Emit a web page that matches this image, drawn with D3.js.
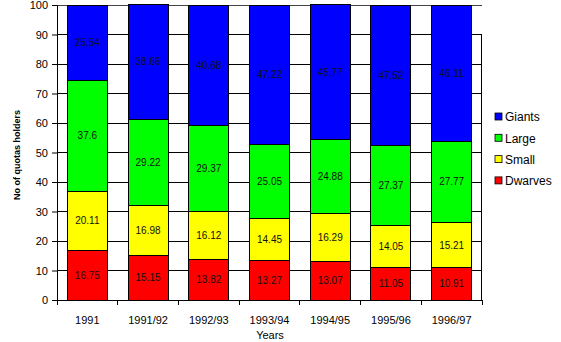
<!DOCTYPE html>
<html>
<head>
<meta charset="utf-8">
<script src="https://cdn.jsdelivr.net/npm/d3@7"></script>
<style>
  html, body { margin: 0; padding: 0; background: #fff; }
  svg { display: block; font-family: "Liberation Sans", Arial, sans-serif; }
</style>
</head>
<body>
<svg id="chart" width="561" height="342"></svg>
<script>
// Share of quota holders per size group, by year
const years = ["1991", "1991/92", "1992/93", "1993/94", "1994/95", "1995/96", "1996/97"];
const dwarves = [16.75, 15.15, 13.82, 13.27, 13.07, 11.05, 10.91];
const small   = [20.11, 16.98, 16.12, 14.45, 16.29, 14.05, 15.21];
const large   = [37.6, 29.22, 29.37, 25.05, 24.88, 27.37, 27.77];
const giants  = [25.54, 38.66, 40.68, 47.22, 45.77, 47.52, 46.11];
const seriesNames = ["Dwarves", "Small", "Large", "Giants"];
const yTicks = [0, 10, 20, 30, 40, 50, 60, 70, 80, 90, 100];

const colors = { Dwarves: "#ff0000", Small: "#ffff00", Large: "#00ff00", Giants: "#0000ff" };
const valuesBySeries = { Dwarves: dwarves, Small: small, Large: large, Giants: giants };

const rows = years.map((yr, i) => {
  const r = { year: yr };
  seriesNames.forEach(s => r[s] = valuesBySeries[s][i]);
  return r;
});

const svg = d3.select("#chart");
const plotLeft = 57, plotRight = 482, plotTop = 5, plotBottom = 300;

const x = d3.scaleBand().domain(years).range([plotLeft, plotRight]).paddingInner(0.34).paddingOuter(0.17);
const y = d3.scaleLinear().domain([0, 100]).range([plotBottom, plotTop]);

// horizontal gridlines
svg.append("g").selectAll("line").data(yTicks.slice(1)).join("line")
  .attr("x1", plotLeft).attr("x2", plotRight)
  .attr("y1", d => y(d)).attr("y2", d => y(d))
  .attr("stroke", d => d === 100 ? "#444" : "#000").attr("stroke-width", 1).attr("shape-rendering", "crispEdges");

// right border of plot area (starts at the 90 gridline)
svg.append("line").attr("x1", plotRight - 1).attr("x2", plotRight - 1).attr("y1", y(90)).attr("y2", plotBottom)
  .attr("stroke", "#000").attr("shape-rendering", "crispEdges");

const stack = d3.stack().keys(seriesNames)(rows);

const layers = svg.append("g").selectAll("g").data(stack).join("g")
  .attr("fill", d => colors[d.key]);

layers.selectAll("rect").data(d => d).join("rect")
  .attr("x", d => x(d.data.year))
  .attr("width", x.bandwidth())
  .attr("y", d => y(d[1]))
  .attr("height", d => y(d[0]) - y(d[1]))
  .attr("stroke", "#000").attr("stroke-width", 1).attr("shape-rendering", "crispEdges");

// value labels centred in each segment
svg.append("g").selectAll("g").data(stack).join("g")
  .each(function(layer) {
    d3.select(this).selectAll("text").data(layer).join("text")
      .attr("x", d => x(d.data.year) + x.bandwidth() / 2)
      .attr("y", d => (y(d[0]) + y(d[1])) / 2)
      .attr("dy", "0.35em")
      .attr("text-anchor", "middle")
      .attr("font-size", 10)
      .attr("fill", "#111")
      .text(d => String(d.data[layer.key]));
  });

// y axis
const yAxis = svg.append("g").attr("transform", `translate(${plotLeft},0)`)
  .call(d3.axisLeft(y).tickValues(yTicks).tickSize(5).tickPadding(4).tickFormat(d3.format("d")));
yAxis.select(".domain").attr("stroke", "#000");
yAxis.selectAll("text").attr("font-size", 11).attr("fill", "#000").style("font-family", "Liberation Sans, Arial, sans-serif");

// x axis: ticks sit between categories
const xAxisG = svg.append("g");
xAxisG.append("line").attr("x1", plotLeft).attr("x2", plotRight).attr("y1", plotBottom).attr("y2", plotBottom)
  .attr("stroke", "#000").attr("shape-rendering", "crispEdges");
const bounds = d3.range(years.length + 1).map(i => plotLeft + i * (plotRight - plotLeft) / years.length);
xAxisG.selectAll("line.tick").data(bounds).join("line").attr("class", "tick")
  .attr("x1", d => d).attr("x2", d => d).attr("y1", plotBottom).attr("y2", plotBottom + 5)
  .attr("stroke", "#000").attr("shape-rendering", "crispEdges");
xAxisG.selectAll("text").data(years).join("text")
  .attr("x", d => x(d) + x.bandwidth() / 2)
  .attr("y", 324)
  .attr("text-anchor", "middle")
  .attr("font-size", 11)
  .text(d => d);

svg.append("text").attr("x", 270).attr("y", 339).attr("text-anchor", "middle")
  .attr("font-size", 11).text("Years");

svg.append("text")
  .attr("transform", "translate(20,155) rotate(-90)")
  .attr("text-anchor", "middle")
  .attr("font-size", 9).attr("font-weight", "bold")
  .text("No of quotas holders");

// legend
const legendOrder = ["Giants", "Large", "Small", "Dwarves"];
const legend = svg.append("g").selectAll("g").data(legendOrder).join("g")
  .attr("transform", (d, i) => `translate(495,${117 + i * 21.3})`);
legend.append("rect").attr("x", 0).attr("y", -4).attr("width", 7).attr("height", 7)
  .attr("fill", d => colors[d]).attr("stroke", "#000").attr("stroke-width", 0.8);
legend.append("text").attr("x", 10).attr("y", 0).attr("dy", "0.35em")
  .attr("font-size", 12).text(d => d);
</script>
</body>
</html>
